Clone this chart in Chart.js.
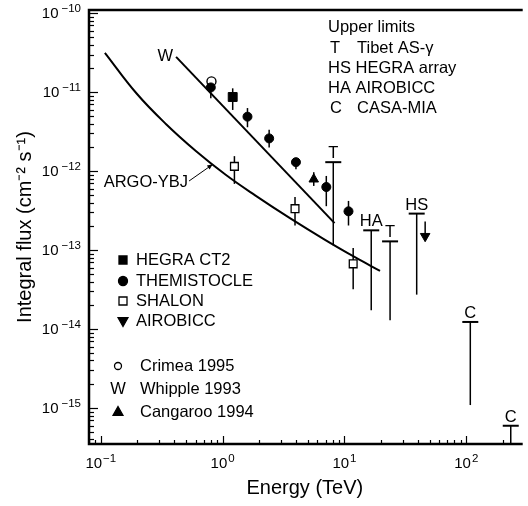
<!DOCTYPE html>
<html>
<head>
<meta charset="utf-8">
<script src="https://cdn.jsdelivr.net/npm/chart.js@4.4.0/dist/chart.umd.min.js"></script>
<style>
  html, body { margin: 0; padding: 0; background: #fff; }
  #wrap { width: 528px; height: 506px; }
</style>
</head>
<body>
<div id="wrap"><canvas id="fluxChart"></canvas></div>
<script>
// ---- data (energy in TeV, integral flux in cm^-2 s^-1) ----
const crimeaE = [0.81];
const crimeaF = [1.37e-11];

const hegraE = [1.21];
const hegraF = [8.7e-12];
const hegraLo = [5.96e-12];
const hegraHi = [1.12e-11];

const themE = [0.80, 1.6, 2.41, 4.0, 7.1, 10.8];
const themF = [1.15e-11, 4.9e-12, 2.6e-12, 1.3e-12, 6.3e-13, 3.1e-13];
const themLo = [8.4e-12, 3.6e-12, 2.0e-12, 1.06e-12, 3.6e-13, 2.05e-13];
const themHi = [1.41e-11, 6.3e-12, 3.35e-12, 1.45e-12, 8.7e-13, 4.2e-13];

const shalonE = [1.25, 3.93, 11.8];
const shalonF = [1.15e-12, 3.35e-13, 6.7e-14];
const shalonLo = [6.9e-13, 2.05e-13, 3.2e-14];
const shalonHi = [1.55e-12, 4.7e-13, 1.06e-13];

const cangE = [5.6];
const cangF = [7.9e-13];
const cangLo = [6.5e-13];
const cangHi = [9.7e-13];

const airoE = [46];
const airoF = [1.5e-13];
const airoLo = [1.5e-13];
const airoHi = [2.3e-13];

const whippleE = [0.415, 8.3];
const whippleF = [2.8e-11, 2.2e-13];

const argoE = [0.108, 0.196, 0.344, 0.603, 1.06, 1.85, 3.57, 6.88, 12.1, 19.6];
const argoF = [3.16e-11, 9.7e-12, 3.93e-12, 1.8e-12, 9.0e-13, 4.94e-13, 2.54e-13, 1.36e-13, 8.2e-14, 5.46e-14];
const argoArrowFrom = [0.53, 7.5e-13];
const argoArrowTo = [0.83, 1.22e-12];

// upper limits
const ulLabels = ['T', 'HA', 'T', 'HS', 'C', 'C'];
const ulE = [8.1, 16.6, 23.7, 39.2, 108, 232];
const ulTop = [1.3e-12, 1.78e-13, 1.29e-13, 2.9e-13, 1.23e-14, 5.96e-16];
const ulBottom = [1.15e-13, 1.73e-14, 1.29e-14, 2.73e-14, 1.09e-15, 3.5e-16];

const xTicks = [0.1, 1, 10, 100];
const yTicks = [1e-10, 1e-11, 1e-12, 1e-13, 1e-14, 1e-15];

const FONT = '"Liberation Sans", Arial, Helvetica, sans-serif';
const TXT = '16.5px ' + FONT;

const expOf = v => String(Math.round(Math.log10(v))).replace('-', '−');
const pts = (xs, ys) => xs.map((e, i) => ({x: e, y: ys[i]}));

const errorSets = [
  {e: hegraE, lo: hegraLo, hi: hegraHi},
  {e: themE, lo: themLo, hi: themHi},
  {e: shalonE, lo: shalonLo, hi: shalonHi},
  {e: cangE, lo: cangLo, hi: cangHi},
  {e: airoE, lo: airoLo, hi: airoHi},
];

function marker(ctx, style, x, y, r, filled) {
  ctx.beginPath();
  if (style === 'circle') {
    ctx.arc(x, y, r, 0, Math.PI * 2);
  } else if (style === 'rect') {
    ctx.rect(x - r, y - r, 2 * r, 2 * r);
  } else if (style === 'up') {
    ctx.moveTo(x, y - r); ctx.lineTo(x + r * 0.9, y + r * 0.6); ctx.lineTo(x - r * 0.9, y + r * 0.6); ctx.closePath();
  } else if (style === 'down') {
    ctx.moveTo(x, y + r); ctx.lineTo(x + r * 0.9, y - r * 0.6); ctx.lineTo(x - r * 0.9, y - r * 0.6); ctx.closePath();
  }
  ctx.fillStyle = filled ? '#000' : '#fff';
  ctx.fill();
  ctx.lineWidth = 1.3;
  ctx.strokeStyle = '#000';
  ctx.stroke();
}

// "10" with a raised exponent; anchor 'right' (y axis) or 'center' (x axis)
function powText(ctx, v, x, y, anchor) {
  const exp = expOf(v);
  ctx.font = '15px ' + FONT;
  const wBase = ctx.measureText('10').width;
  ctx.font = '11.5px ' + FONT;
  const wExp = ctx.measureText(exp).width;
  const gap = anchor === 'right' ? 3 : 1;
  const total = wBase + gap + wExp;
  const left = anchor === 'right' ? x - total : x - total / 2;
  ctx.textAlign = 'left';
  ctx.textBaseline = 'middle';
  ctx.font = '15px ' + FONT;
  ctx.fillText('10', left, y);
  ctx.font = '11.5px ' + FONT;
  ctx.fillText(exp, left + wBase + gap, y - 5);
}

const decorations = {
  id: 'decorations',
  beforeDatasetsDraw(chart) {
    const {ctx, chartArea, scales: {x, y}} = chart;
    ctx.save();
    ctx.strokeStyle = '#000';
    ctx.lineWidth = 1.5;
    // error bars
    errorSets.forEach(s => s.e.forEach((e, i) => {
      const px = x.getPixelForValue(e);
      ctx.beginPath();
      ctx.moveTo(px, y.getPixelForValue(s.lo[i]));
      ctx.lineTo(px, y.getPixelForValue(s.hi[i]));
      ctx.stroke();
    }));
    // upper limits
    ctx.font = TXT;
    ctx.fillStyle = '#000';
    ctx.textAlign = 'center';
    ctx.textBaseline = 'alphabetic';
    ulE.forEach((e, i) => {
      const px = x.getPixelForValue(e);
      const top = y.getPixelForValue(ulTop[i]);
      const bot = Math.min(y.getPixelForValue(ulBottom[i]), chartArea.bottom);
      ctx.lineWidth = 1.5;
      ctx.beginPath(); ctx.moveTo(px, top); ctx.lineTo(px, bot); ctx.stroke();
      ctx.lineWidth = 2;
      ctx.beginPath(); ctx.moveTo(px - 8, top); ctx.lineTo(px + 8, top); ctx.stroke();
      ctx.fillText(ulLabels[i], px, top - 4);
    });
    ctx.restore();
  },
  afterDraw(chart) {
    const {ctx, chartArea: a, scales: {x, y}} = chart;
    ctx.save();
    ctx.strokeStyle = '#000';
    ctx.fillStyle = '#000';
    // frame
    ctx.lineWidth = 2.5;
    ctx.beginPath();
    ctx.moveTo(a.right + 2, a.top); ctx.lineTo(a.left, a.top);
    ctx.lineTo(a.left, a.bottom); ctx.lineTo(a.right + 2, a.bottom);
    ctx.stroke();
    // inward log ticks
    ctx.lineWidth = 1.2;
    for (let d = -16; d <= -10; d++) {
      for (let k = 1; k <= 9; k++) {
        const v = k * Math.pow(10, d);
        if (v < y.min || v > y.max) continue;
        const py = Math.round(y.getPixelForValue(v)) + 0.5;
        const len = k === 1 ? 9 : 5;
        ctx.beginPath(); ctx.moveTo(a.left, py); ctx.lineTo(a.left + len, py); ctx.stroke();
      }
    }
    for (let d = -2; d <= 2; d++) {
      for (let k = 1; k <= 9; k++) {
        const v = k * Math.pow(10, d);
        if (v < x.min || v > x.max) continue;
        const px = Math.round(x.getPixelForValue(v)) + 0.5;
        const len = k === 1 ? 8 : 4;
        ctx.beginPath(); ctx.moveTo(px, a.bottom); ctx.lineTo(px, a.bottom - len); ctx.stroke();
      }
    }
    // tick labels
    yTicks.forEach(v => powText(ctx, v, a.left - 8, y.getPixelForValue(v) + 1, 'right'));
    xTicks.forEach(v => powText(ctx, v, x.getPixelForValue(v), a.bottom + 20, 'center'));

    ctx.font = TXT;
    ctx.textBaseline = 'middle';
    // W label at start of Whipple line
    ctx.textAlign = 'right';
    ctx.fillText('W', x.getPixelForValue(whippleE[0]) - 3, y.getPixelForValue(whippleF[0]));
    // ARGO-YBJ label and arrow
    const ax0 = x.getPixelForValue(argoArrowFrom[0]), ay0 = y.getPixelForValue(argoArrowFrom[1]);
    const ax1 = x.getPixelForValue(argoArrowTo[0]), ay1 = y.getPixelForValue(argoArrowTo[1]);
    ctx.fillText('ARGO-YBJ', ax0 - 1, ay0 + 1);
    ctx.lineWidth = 1;
    ctx.beginPath(); ctx.moveTo(ax0, ay0); ctx.lineTo(ax1, ay1); ctx.stroke();
    const ang = Math.atan2(ay1 - ay0, ax1 - ax0);
    ctx.beginPath();
    ctx.moveTo(ax1, ay1);
    ctx.lineTo(ax1 - 6 * Math.cos(ang - 0.4), ay1 - 6 * Math.sin(ang - 0.4));
    ctx.lineTo(ax1 - 6 * Math.cos(ang + 0.4), ay1 - 6 * Math.sin(ang + 0.4));
    ctx.closePath(); ctx.fill();

    // upper limits key
    ctx.textAlign = 'left';
    ctx.fillText('Upper limits', 328, 27);
    ctx.fillText('T', 330, 48); ctx.fillText('Tibet AS-γ', 357, 48);
    ctx.fillText('HS HEGRA array', 328, 68);
    ctx.fillText('HA AIROBICC', 328, 88);
    ctx.fillText('C', 330, 108); ctx.fillText('CASA-MIA', 357, 108);

    // marker key
    const key1 = [['rect', true, 'HEGRA CT2', 260], ['circle', true, 'THEMISTOCLE', 281],
                  ['rect', false, 'SHALON', 301], ['down', true, 'AIROBICC', 321]];
    key1.forEach(([s, f, t, ky]) => {
      marker(ctx, s, 123, ky, s === 'rect' ? 4 : s === 'circle' ? 4.5 : 5.5, f);
      ctx.fillStyle = '#000';
      ctx.fillText(t, 136, ky);
    });
    marker(ctx, 'circle', 118, 366, 3.5, false);
    ctx.fillStyle = '#000';
    ctx.fillText('Crimea 1995', 140, 366);
    ctx.textAlign = 'center';
    ctx.fillText('W', 118, 389);
    ctx.textAlign = 'left';
    ctx.fillText('Whipple 1993', 140, 389);
    marker(ctx, 'up', 118, 412, 5.5, true);
    ctx.fillStyle = '#000';
    ctx.fillText('Cangaroo 1994', 140, 412);
    ctx.restore();
  }
};

new Chart(document.getElementById('fluxChart'), {
  type: 'scatter',
  data: {
    datasets: [
      {label: 'Crimea 1995', data: pts(crimeaE, crimeaF), pointStyle: 'circle', pointRadius: 4.5,
       backgroundColor: '#fff', borderColor: '#000', borderWidth: 1.4, order: 7},
      {label: 'THEMISTOCLE', data: pts(themE, themF), pointStyle: 'circle', pointRadius: 4.5,
       backgroundColor: '#000', borderColor: '#000', borderWidth: 1, order: 2},
      {label: 'HEGRA CT2', data: pts(hegraE, hegraF), pointStyle: 'rect', pointRadius: 6.3,
       backgroundColor: '#000', borderColor: '#000', borderWidth: 1, order: 3},
      {label: 'SHALON', data: pts(shalonE, shalonF), pointStyle: 'rect', pointRadius: 5.5,
       backgroundColor: '#fff', borderColor: '#000', borderWidth: 1.3, order: 4},
      {label: 'Cangaroo 1994', data: pts(cangE, cangF), pointStyle: 'triangle', pointRadius: 5.5,
       backgroundColor: '#000', borderColor: '#000', borderWidth: 1, order: 5},
      {label: 'AIROBICC', data: pts(airoE, airoF), pointStyle: 'triangle', rotation: 180, pointRadius: 5.5,
       backgroundColor: '#000', borderColor: '#000', borderWidth: 1, order: 6},
      {label: 'Whipple 1993', data: pts(whippleE, whippleF), showLine: true, pointRadius: 0,
       borderColor: '#000', borderWidth: 2, order: 8},
      {label: 'ARGO-YBJ', data: pts(argoE, argoF), showLine: true, pointRadius: 0,
       borderColor: '#000', borderWidth: 2, tension: 0.4, order: 9},
    ]
  },
  options: {
    responsive: true,
    maintainAspectRatio: false,
    animation: false,
    layout: {padding: {top: 10, right: 0, left: 0, bottom: 0}},
    plugins: {legend: {display: false}, tooltip: {enabled: false}},
    scales: {
      x: {
        type: 'logarithmic', min: 0.08, max: 280,
        afterBuildTicks: s => { s.ticks = xTicks.map(v => ({value: v})); },
        afterFit: s => { s.height = 62; },
        grid: {drawOnChartArea: false, drawTicks: false},
        border: {display: false},
        ticks: {display: false},
        title: {display: true, text: 'Energy (TeV)', color: '#000', padding: {top: 0, bottom: 6},
                font: {family: FONT, size: 20}}
      },
      y: {
        type: 'logarithmic', min: 3.5e-16, max: 1.1e-10,
        afterBuildTicks: s => { s.ticks = yTicks.map(v => ({value: v})); },
        afterFit: s => { s.width = 89; },
        grid: {drawOnChartArea: false, drawTicks: false},
        border: {display: false},
        ticks: {display: false},
        title: {display: true, text: 'Integral flux (cm⁻² s⁻¹)', color: '#000', padding: {top: 13, bottom: 0},
                font: {family: FONT, size: 20}}
      }
    }
  },
  plugins: [decorations]
});
</script>
</body>
</html>
